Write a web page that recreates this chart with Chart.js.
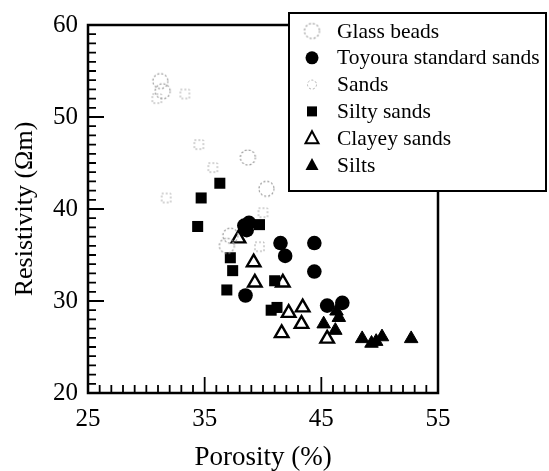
<!DOCTYPE html>
<html>
<head>
<meta charset="utf-8">
<script src="https://cdn.jsdelivr.net/npm/chart.js@4.4.0/dist/chart.umd.min.js"></script>
<style>
  html, body { margin: 0; padding: 0; background: #fff; }
</style>
</head>
<body>
<canvas id="chart" width="549" height="471"></canvas>
<script>
// Data: porosity (%) and resistivity (ohm m) per soil type
const glassPorosity    = [31.2, 31.4, 38.7, 40.3, 37.2, 36.9];
const glassResistivity = [53.9, 52.8, 45.6, 42.2, 37.1, 36.0];

const toyouraPorosity    = [38.4, 38.8, 38.6, 41.5, 41.9, 44.4, 44.4, 38.5, 45.5, 46.8];
const toyouraResistivity = [38.2, 38.5, 37.7, 36.3, 34.9, 36.3, 33.2, 30.6, 29.5, 29.8];

const sandsPorosity    = [30.9, 33.3, 34.5, 35.7, 31.7, 40.0, 39.7];
const sandsResistivity = [52.0, 52.5, 47.0, 44.5, 41.2, 39.6, 35.9];

const siltySandsPorosity    = [36.3, 34.7, 34.4, 39.7, 37.2, 37.4, 36.9, 41.0, 40.7, 41.2];
const siltySandsResistivity = [42.8, 41.2, 38.1, 38.3, 34.7, 33.3, 31.2, 32.2, 29.0, 29.3];

const clayeySandsPorosity    = [37.9, 39.2, 39.3, 41.7, 42.2, 41.6, 43.4, 43.3, 45.5];
const clayeySandsResistivity = [36.8, 34.2, 32.0, 32.0, 28.7, 26.5, 29.3, 27.5, 25.9];

const siltsPorosity    = [45.2, 46.3, 46.5, 46.2, 48.5, 49.3, 49.7, 50.2, 52.7];
const siltsResistivity = [27.5, 28.9, 28.2, 26.8, 25.9, 25.4, 25.6, 26.1, 25.9];

const seriesNames = ['Glass beads', 'Toyoura standard sands', 'Sands', 'Silty sands', 'Clayey sands', 'Silts'];
const xTickValues = [25, 35, 45, 55];
const yTickValues = [20, 30, 40, 50, 60];

const SERIF = "'Liberation Serif', 'DejaVu Serif', serif";

function toPoints(xs, ys) {
  return xs.map((x, i) => ({ x: x, y: ys[i] }));
}

// small canvases used as point styles for the faint dotted markers
function dottedCircle(r) {
  const cv = document.createElement('canvas');
  cv.width = cv.height = 2 * r + 4;
  const c = cv.getContext('2d');
  c.strokeStyle = '#9a9a9a';
  c.lineWidth = 1.2;
  c.setLineDash([2, 2]);
  c.beginPath();
  c.arc(r + 2, r + 2, r, 0, Math.PI * 2);
  c.stroke();
  return cv;
}
function dottedSquare(s) {
  const cv = document.createElement('canvas');
  cv.width = cv.height = s + 4;
  const c = cv.getContext('2d');
  c.strokeStyle = '#a8a8a8';
  c.lineWidth = 1;
  c.setLineDash([2, 2]);
  c.strokeRect(2, 2, s, s);
  return cv;
}
const glassStyle = dottedCircle(7.5);
const sandsStyle = dottedSquare(9);

// ticks pointing inward + frame round the plot
const framePlugin = {
  id: 'frame',
  afterDatasetsDraw(chart) {
    const ctx = chart.ctx, a = chart.chartArea;
    const xs = chart.scales.x, ys = chart.scales.y;
    ctx.save();
    ctx.strokeStyle = '#000';
    ctx.lineWidth = 1.8;
    ctx.beginPath();
    for (let v = 26; v < 55; v++) {
      const len = (v % 10 === 5) ? 16 : 8;
      const px = xs.getPixelForValue(v);
      ctx.moveTo(px, a.bottom);
      ctx.lineTo(px, a.bottom - len);
    }
    for (let v = 21; v < 60; v++) {
      const len = (v % 10 === 0) ? 16 : 8;
      const py = ys.getPixelForValue(v);
      ctx.moveTo(a.left, py);
      ctx.lineTo(a.left + len, py);
    }
    ctx.stroke();
    ctx.lineWidth = 2.5;
    ctx.strokeRect(a.left, a.top, a.right - a.left, a.bottom - a.top);
    ctx.restore();
  }
};

// legend box drawn by hand so it can sit over the top right corner
const legendPlugin = {
  id: 'boxLegend',
  afterDraw(chart) {
    const ctx = chart.ctx;
    const left = 289, top = 13, right = 546, bottom = 191;
    ctx.save();
    ctx.fillStyle = '#fff';
    ctx.fillRect(left, top, right - left, bottom - top);
    ctx.strokeStyle = '#000';
    ctx.lineWidth = 2;
    ctx.strokeRect(left, top, right - left, bottom - top);
    ctx.font = '21.5px ' + SERIF;
    ctx.textBaseline = 'middle';
    ctx.textAlign = 'left';
    seriesNames.forEach((name, i) => {
      const y = 31 + i * 26.8;
      const mx = 312;
      ctx.fillStyle = '#000';
      ctx.strokeStyle = '#000';
      ctx.lineWidth = 2;
      ctx.setLineDash([]);
      if (i === 0) {
        ctx.drawImage(glassStyle, mx - glassStyle.width / 2, y - glassStyle.height / 2);
      } else if (i === 1) {
        ctx.beginPath(); ctx.arc(mx, y, 6.5, 0, Math.PI * 2); ctx.fill();
      } else if (i === 2) {
        ctx.strokeStyle = '#b0b0b0'; ctx.lineWidth = 1; ctx.setLineDash([2, 2]);
        ctx.beginPath(); ctx.arc(mx, y, 4.5, 0, Math.PI * 2); ctx.stroke();
        ctx.setLineDash([]);
      } else if (i === 3) {
        ctx.fillRect(mx - 5, y - 5, 10, 10);
      } else {
        ctx.beginPath();
        ctx.moveTo(mx, y - 7); ctx.lineTo(mx + 6.5, y + 5); ctx.lineTo(mx - 6.5, y + 5); ctx.closePath();
        if (i === 5) ctx.fill(); else ctx.stroke();
      }
      ctx.fillStyle = '#000';
      ctx.fillText(name, 337, y + 1);
    });
    ctx.restore();
  }
};

new Chart(document.getElementById('chart'), {
  type: 'scatter',
  data: {
    datasets: [
      {
        label: seriesNames[0],
        data: toPoints(glassPorosity, glassResistivity),
        pointStyle: glassStyle
      },
      {
        label: seriesNames[2],
        data: toPoints(sandsPorosity, sandsResistivity),
        pointStyle: sandsStyle
      },
      {
        label: seriesNames[1],
        data: toPoints(toyouraPorosity, toyouraResistivity),
        pointStyle: 'circle', pointRadius: 7.3,
        backgroundColor: '#000', borderColor: '#000', borderWidth: 0
      },
      {
        label: seriesNames[3],
        data: toPoints(siltySandsPorosity, siltySandsResistivity),
        pointStyle: 'rect', pointRadius: 7.8,
        backgroundColor: '#000', borderColor: '#000', borderWidth: 0
      },
      {
        label: seriesNames[4],
        data: toPoints(clayeySandsPorosity, clayeySandsResistivity),
        pointStyle: 'triangle', pointRadius: 7.8,
        backgroundColor: '#fff', borderColor: '#000', borderWidth: 2.4
      },
      {
        label: seriesNames[5],
        data: toPoints(siltsPorosity, siltsResistivity),
        pointStyle: 'triangle', pointRadius: 7.8,
        backgroundColor: '#000', borderColor: '#000', borderWidth: 1
      }
    ]
  },
  options: {
    responsive: false,
    animation: false,
    devicePixelRatio: 1,
    layout: { padding: { top: 20, right: 111, left: 6, bottom: 0 } },
    plugins: {
      legend: { display: false },
      tooltip: { enabled: false }
    },
    scales: {
      x: {
        type: 'linear',
        min: 25, max: 55,
        afterBuildTicks: (s) => { s.ticks = xTickValues.map(v => ({ value: v })); },
        afterFit: (s) => { s.height = 78; },
        grid: { display: false, drawTicks: false },
        border: { display: false },
        ticks: { color: '#000', padding: 11, font: { family: SERIF, size: 25 } },
        title: {
          display: true, text: 'Porosity (%)', color: '#000',
          font: { family: SERIF, size: 27 }, padding: { top: 8, bottom: -3 }
        }
      },
      y: {
        type: 'linear',
        min: 20, max: 60,
        afterBuildTicks: (s) => { s.ticks = yTickValues.map(v => ({ value: v })); },
        afterFit: (s) => { s.width = 82; },
        grid: { display: false, drawTicks: false },
        border: { display: false },
        ticks: { color: '#000', padding: 10, font: { family: SERIF, size: 25 } },
        title: {
          display: true, text: 'Resistivity (Ωm)', color: '#000',
          font: { family: SERIF, size: 26 }, padding: { bottom: 0 }
        }
      }
    }
  },
  plugins: [framePlugin, legendPlugin]
});
</script>
</body>
</html>
